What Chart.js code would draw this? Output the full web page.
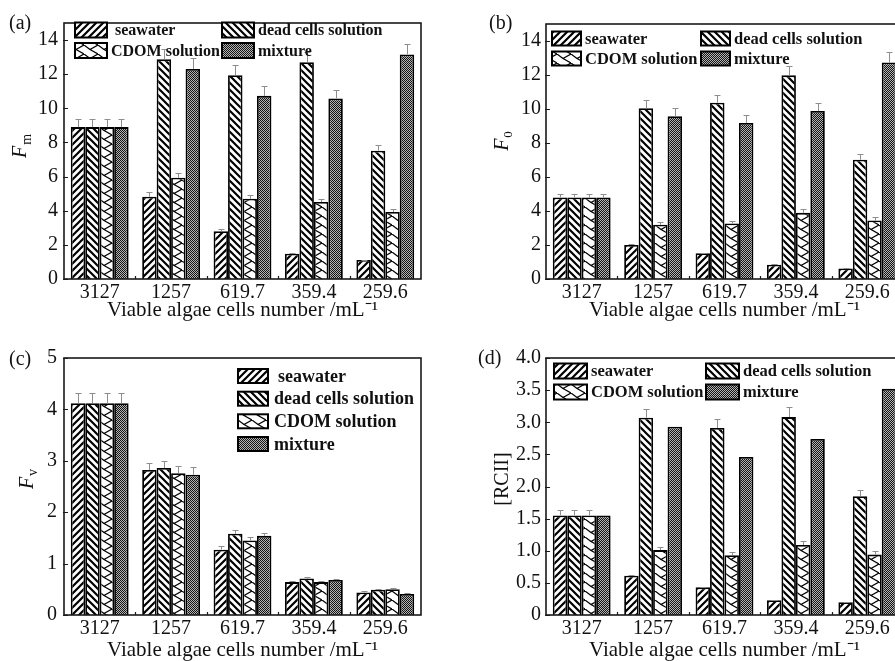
<!DOCTYPE html>
<html><head><meta charset="utf-8">
<script src="https://cdn.jsdelivr.net/npm/chart.js@4.4.0/dist/chart.umd.min.js"></script>
<style>
html,body{margin:0;padding:0;background:#fff;overflow:hidden;width:895px;height:661px;position:relative}
canvas{position:absolute;display:block}
</style></head><body>
<canvas id="ca" width="445" height="325" style="left:0;top:0;width:445px;height:325px"></canvas>
<canvas id="cb" width="470" height="325" style="left:445px;top:0;width:470px;height:325px"></canvas>
<canvas id="cc" width="445" height="331" style="left:0;top:330px;width:445px;height:331px"></canvas>
<canvas id="cd" width="470" height="331" style="left:445px;top:330px;width:470px;height:331px"></canvas>
<script>
// ---------- DATA ----------
const categories = ['3127', '1257', '619.7', '359.4', '259.6'];
const seriesNames = ['seawater', 'dead cells solution', 'CDOM solution', 'mixture'];
const xTitle = 'Viable algae cells number /mL\u207B\u00B9';

// (a) Fm
const fmSeawater = [8.9, 4.82, 2.80, 1.48, 1.11];
const fmDead     = [8.9, 12.87, 11.94, 12.70, 7.52];
const fmCdom     = [8.9, 5.93, 4.70, 4.51, 3.93];
const fmMixture  = [8.9, 12.31, 10.73, 10.58, 13.16];
const fmSeawaterErr = [0.45, 0.25, 0.12, 0.05, 0.03];
const fmDeadErr     = [0.45, 0.60, 0.60, 0.60, 0.35];
const fmCdomErr     = [0.45, 0.30, 0.25, 0.20, 0.20];
const fmMixtureErr  = [0.45, 0.65, 0.55, 0.50, 0.60];

// (b) F0
const f0Seawater = [4.79, 2.00, 1.52, 0.84, 0.62];
const f0Dead     = [4.79, 10.04, 10.37, 11.98, 7.02];
const f0Cdom     = [4.79, 3.19, 3.27, 3.89, 3.44];
const f0Mixture  = [4.79, 9.57, 9.18, 9.88, 12.74];
const f0SeawaterErr = [0.22, 0.05, 0.03, 0.03, 0.02];
const f0DeadErr     = [0.22, 0.47, 0.48, 0.56, 0.33];
const f0CdomErr     = [0.22, 0.15, 0.13, 0.20, 0.18];
const f0MixtureErr  = [0.22, 0.47, 0.45, 0.50, 0.60];

// (c) Fv
const fvSeawater = [4.12, 2.82, 1.27, 0.64, 0.44];
const fvDead     = [4.12, 2.86, 1.58, 0.71, 0.49];
const fvCdom     = [4.12, 2.76, 1.45, 0.64, 0.50];
const fvMixture  = [4.12, 2.73, 1.54, 0.68, 0.41];
const fvSeawaterErr = [0.20, 0.13, 0.07, 0.02, 0.02];
const fvDeadErr     = [0.20, 0.13, 0.07, 0.02, 0.02];
const fvCdomErr     = [0.20, 0.13, 0.07, 0.02, 0.02];
const fvMixtureErr  = [0.20, 0.14, 0.06, 0.02, 0.02];

// (d) [RCII]
const rcSeawater = [1.55, 0.61, 0.43, 0.23, 0.20];
const rcDead     = [1.55, 3.07, 2.91, 3.08, 1.85];
const rcCdom     = [1.55, 1.01, 0.93, 1.09, 0.94];
const rcMixture  = [1.55, 2.93, 2.46, 2.74, 3.52];
const rcSeawaterErr = [0.08, 0.02, 0.01, 0.01, 0.01];
const rcDeadErr     = [0.08, 0.14, 0.14, 0.15, 0.09];
const rcCdomErr     = [0.08, 0.05, 0.05, 0.06, 0.05];
const rcMixtureErr  = [0, 0, 0, 0, 0];

// ---------- PATTERNS ----------
const FONT = '"Liberation Serif", "Times New Roman", serif';
const helper = document.createElement('canvas').getContext('2d');
function tile(w, h, draw) {
  const c = document.createElement('canvas'); c.width = w; c.height = h;
  const g = c.getContext('2d');
  g.fillStyle = '#fff'; g.fillRect(0, 0, w, h);
  draw(g, w, h);
  return helper.createPattern(c, 'repeat');
}
const patSeawater = tile(7, 7, (g, s) => {
  g.strokeStyle = '#000'; g.lineWidth = 2.2; g.beginPath();
  g.moveTo(0, s); g.lineTo(s, 0);
  g.moveTo(-1, 1); g.lineTo(1, -1);
  g.moveTo(s - 1, s + 1); g.lineTo(s + 1, s - 1);
  g.stroke();
});
const patDead = tile(7, 7, (g, s) => {
  g.strokeStyle = '#000'; g.lineWidth = 2.2; g.beginPath();
  g.moveTo(0, 0); g.lineTo(s, s);
  g.moveTo(s - 1, -1); g.lineTo(s + 1, 1);
  g.moveTo(-1, s - 1); g.lineTo(1, s + 1);
  g.stroke();
});
const patCdom = tile(14, 9, (g, w, h) => {
  g.strokeStyle = '#000'; g.lineWidth = 1.2; g.beginPath();
  g.moveTo(w, 0); g.lineTo(6, h / 2); g.lineTo(w, h);
  g.moveTo(0, 0); g.lineTo(6, h / 2);
  g.stroke();
});
const patMixture = tile(2, 2, (g) => {
  g.fillStyle = '#b4b4b4'; g.fillRect(0, 0, 2, 2);
  g.fillStyle = '#141414'; g.fillRect(0, 0, 1, 1); g.fillRect(1, 1, 1, 1);
});
const patterns = [patSeawater, patDead, patCdom, patMixture];

// ---------- DECORATION PLUGIN ----------
const deco = {
  id: 'deco',
  afterDatasetsDraw(chart, args, o) {
    const ctx = chart.ctx, a = chart.chartArea, ys = chart.scales.y, xs = chart.scales.x;
    ctx.save();
    // error bars
    chart.data.datasets.forEach((ds, i) => {
      const meta = chart.getDatasetMeta(i);
      meta.data.forEach((el, j) => {
        const e = ds.errors[j];
        if (!e) return;
        const top = Math.round(ys.getPixelForValue(ds.data[j] + e)) + 0.5;
        const cx = Math.round(el.x) + 0.5;
        ctx.strokeStyle = '#8e8e8e'; ctx.lineWidth = 1;
        ctx.beginPath();
        ctx.moveTo(cx, el.y); ctx.lineTo(cx, top);
        ctx.moveTo(cx - 3, top); ctx.lineTo(cx + 3, top);
        ctx.stroke();
      });
    });
    // frame
    ctx.strokeStyle = '#1a1a1a'; ctx.lineWidth = 1.6;
    ctx.strokeRect(a.left, a.top, a.right - a.left, a.bottom - a.top);
    // inward y ticks
    ctx.lineWidth = 1.2;
    ctx.beginPath();
    ys.ticks.forEach(t => {
      if (t.label === '' || t.label == null) return;
      const py = Math.round(ys.getPixelForValue(t.value)) + 0.5;
      ctx.moveTo(a.left - 1, py); ctx.lineTo(a.left + 4, py);
    });
    // x boundary dots
    for (let i = 1; i < categories.length; i++) {
      const px = Math.round((xs.getPixelForTick(i - 1) + xs.getPixelForTick(i)) / 2) + 0.5;
      ctx.moveTo(px, a.bottom - 3); ctx.lineTo(px, a.bottom);
    }
    ctx.stroke();
    // legend
    const L = o.legend;
    ctx.font = 'bold ' + L.size + 'px ' + FONT;
    ctx.textBaseline = 'middle'; ctx.textAlign = 'left';
    seriesNames.forEach((name, i) => {
      const [col, row] = L.map[i];
      const sx = L.sx[col], cy = L.rows[row];
      ctx.fillStyle = patterns[i];
      ctx.fillRect(sx, cy - L.sh / 2, L.sw, L.sh);
      ctx.strokeStyle = '#000'; ctx.lineWidth = 2;
      ctx.strokeRect(sx, cy - L.sh / 2, L.sw, L.sh);
      ctx.fillStyle = '#111';
      const tx = sx + L.sw + L.gap + (i === 0 ? L.seaOffset : 0);
      ctx.fillText(name, tx, cy + 1);
    });
    // y title
    const T = o.ytitle;
    ctx.translate(T.cx, T.cy);
    ctx.rotate(-Math.PI / 2);
    ctx.fillStyle = '#111';
    ctx.textBaseline = 'alphabetic';
    if (T.sub) {
      ctx.font = 'italic ' + T.size + 'px ' + FONT;
      const w1 = ctx.measureText(T.main).width;
      ctx.font = T.subSize + 'px ' + FONT;
      const w2 = ctx.measureText(T.sub).width;
      const x0 = -(w1 + w2 + 1) / 2, b = T.size * 0.33;
      ctx.font = 'italic ' + T.size + 'px ' + FONT;
      ctx.fillText(T.main, x0, b);
      ctx.font = T.subSize + 'px ' + FONT;
      ctx.fillText(T.sub, x0 + w1 + 1, b + T.subOff);
    } else {
      ctx.font = T.size + 'px ' + FONT;
      ctx.textAlign = 'center';
      ctx.fillText(T.main, 0, T.size * 0.33);
    }
    ctx.setTransform(1, 0, 0, 1, 0, 0);
    // panel label
    ctx.font = '20px ' + FONT;
    ctx.textAlign = 'left'; ctx.textBaseline = 'middle';
    ctx.fillStyle = '#111';
    ctx.fillText(o.panel.text, o.panel.x, o.panel.y);
    ctx.restore();
  }
};

function makeChart(id, series, errs, P) {
  const datasets = series.map((d, i) => ({
    label: seriesNames[i],
    data: d,
    errors: errs[i],
    backgroundColor: patterns[i],
    borderColor: '#000',
    borderWidth: 1.8,
    categoryPercentage: 0.81,
    barPercentage: 1.0
  }));
  return new Chart(document.getElementById(id), {
    type: 'bar',
    data: { labels: categories, datasets },
    plugins: [deco],
    options: {
      responsive: false, animation: false, devicePixelRatio: 1,
      layout: { padding: { left: 0, top: P.top, right: P.right, bottom: 0 } },
      plugins: {
        legend: { display: false }, tooltip: { enabled: false },
        deco: { legend: P.legend, ytitle: P.ytitle, panel: P.panel }
      },
      scales: {
        x: {
          grid: { display: false, drawTicks: false }, border: { display: false },
          ticks: { color: '#111', font: { family: FONT, size: 20 }, padding: 2, maxRotation: 0, autoSkip: false },
          title: { display: true, text: xTitle, color: '#111', font: { family: FONT, size: 21, lineHeight: 1 }, padding: { top: 0, bottom: P.xtPad } },
          afterFit(s) { s.height = P.xh; }
        },
        y: {
          min: 0, max: P.ymax,
          grid: { display: false, drawTicks: false }, border: { display: false },
          ticks: {
            stepSize: P.step, includeBounds: false, color: '#111', padding: P.ypad,
            font: { family: FONT, size: 20 },
            callback: (v) => {
              const r = v / P.step;
              if (Math.abs(r - Math.round(r)) > 1e-6) return '';
              if (v === 0) return '0';
              return P.fmt(v);
            }
          },
          afterFit(s) { s.width = P.yw; }
        }
      }
    }
  });
}

const int = v => String(Math.round(v));
const one = v => v.toFixed(1);

makeChart('ca', [fmSeawater, fmDead, fmCdom, fmMixture], [fmSeawaterErr, fmDeadErr, fmCdomErr, fmMixtureErr], {
  top: 23, right: 24, yw: 64, xh: 46, xtPad: 4, ymax: 15, step: 2, ypad: 6, fmt: int,
  legend: { size: 16, sx: [75, 222], sw: 32, sh: 15, gap: 4, seaOffset: 4, rows: [30, 50.5], map: [[0,0],[1,0],[0,1],[1,1]] },
  ytitle: { main: 'F', sub: 'm', size: 20, subSize: 14, subOff: 5, cx: 19, cy: 146 },
  panel: { text: '(a)', x: 9, y: 24 }
});
makeChart('cb', [f0Seawater, f0Dead, f0Cdom, f0Mixture], [f0SeawaterErr, f0DeadErr, f0CdomErr, f0MixtureErr], {
  top: 24, right: 12, yw: 101, xh: 46, xtPad: 4, ymax: 15, step: 2, ypad: 5, fmt: int,
  legend: { size: 16.5, sx: [107, 256], sw: 29, sh: 14, gap: 4, seaOffset: 0, rows: [38.5, 58.5], map: [[0,0],[1,0],[0,1],[1,1]] },
  ytitle: { main: 'F', sub: '0', size: 20, subSize: 13, subOff: 4, cx: 56, cy: 141 },
  panel: { text: '(b)', x: 44, y: 24 }
});
makeChart('cc', [fvSeawater, fvDead, fvCdom, fvMixture], [fvSeawaterErr, fvDeadErr, fvCdomErr, fvMixtureErr], {
  top: 28, right: 24, yw: 64, xh: 46, xtPad: 0, ymax: 5, step: 1, ypad: 7, fmt: int,
  legend: { size: 18, sx: [238], sw: 30, sh: 14, gap: 6, seaOffset: 4, rows: [46, 68.7, 91.3, 114], map: [[0,0],[0,1],[0,2],[0,3]] },
  ytitle: { main: 'F', sub: 'v', size: 20, subSize: 14, subOff: 4, cx: 26, cy: 149 },
  panel: { text: '(c)', x: 9, y: 30 }
});
makeChart('cd', [rcSeawater, rcDead, rcCdom, rcMixture], [rcSeawaterErr, rcDeadErr, rcCdomErr, rcMixtureErr], {
  top: 28, right: 12, yw: 101, xh: 46, xtPad: 0, ymax: 4, step: 0.5, ypad: 5, fmt: one,
  legend: { size: 16.5, sx: [109, 261], sw: 33, sh: 15, gap: 4, seaOffset: 0, rows: [41, 62], map: [[0,0],[1,0],[0,1],[1,1]] },
  ytitle: { main: '[RCII]', sub: null, size: 20, cx: 56, cy: 149 },
  panel: { text: '(d)', x: 33, y: 29 }
});
</script>
</body></html>
